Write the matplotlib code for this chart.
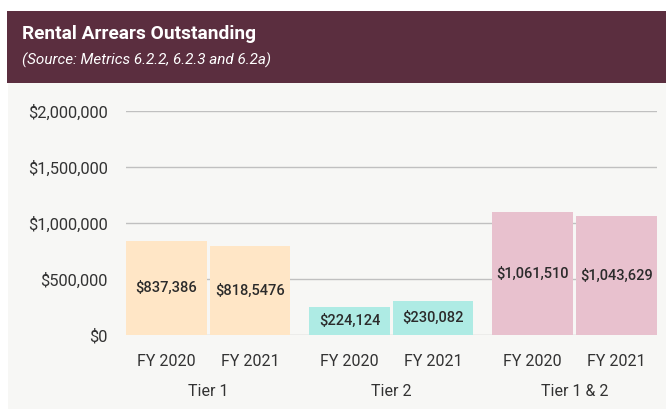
import matplotlib
matplotlib.use("Agg")
import matplotlib.pyplot as plt
from matplotlib.patches import Rectangle
import matplotlib.transforms as mtransforms

# ---- data ----
groups = ["Tier 1", "Tier 2", "Tier 1 & 2"]
years = ["FY 2020", "FY 2021"]
bar_heights = [[837386, 795000], [253000, 304000], [1098000, 1063000]]
bar_labels = [["$837,386", "$818,5476"], ["$224,124", "$230,082"], ["$1,061,510", "$1,043,629"]]
yticks = [0, 500000, 1000000, 1500000, 2000000]
ytick_labels = ["$0", "$500,000", "$1,000,000", "$1,500,000", "$2,000,000"]
group_colors = ["#ffe6c6", "#aeebe4", "#e8c1ce"]

W, H = 666, 409
fig = plt.figure(figsize=(W / 100, H / 100), dpi=100)
fig.patch.set_facecolor("white")

# panel background and header band
fig.patches.append(Rectangle((8 / W, 0), 1 - 8 / W, (H - 83) / H, transform=fig.transFigure,
                             facecolor="#f7f7f5", edgecolor="none", zorder=-10))
fig.patches.append(Rectangle((7 / W, (H - 83) / H), 1 - 7 / W, 72 / H, transform=fig.transFigure,
                             facecolor="#5b2e3f", edgecolor="none", zorder=-10))
fig.text(22 / W, (H - 34) / H, "Rental Arrears Outstanding", color="white", fontsize=13.8,
         fontweight="bold", family="Roboto", va="center", ha="left")
fig.text(22 / W, (H - 60) / H, "(Source: Metrics 6.2.2, 6.2.3 and 6.2a)", color="white",
         fontsize=11, style="italic", family="Roboto", va="center", ha="left")

left, right = 126 / W, 656.7 / W
bottom, top = (H - 335) / H, (H - 111) / H
ax = fig.add_axes([left, bottom, right - left, top - bottom])
ax.set_facecolor("none")
ax.set_zorder(1)

group_pitch = 184 / 84
width = 81 / 84
xs_all = []
for g, grp in enumerate(groups):
    for j in range(len(years)):
        x = g * group_pitch + j
        xs_all.append(x)
        ax.bar(x, bar_heights[g][j], width=width, color=group_colors[g], zorder=2)
        ax.text(x, bar_heights[g][j] / 2, bar_labels[g][j], ha="center", va="center",
                fontsize=10.5, color="#2b2b2b", family="Roboto", fontweight="medium", zorder=3)

ax.set_xlim(-width / 2, 2 * group_pitch + 1 + width / 2)
ax.set_ylim(0, 2000000)
ax.set_yticks(yticks)
ax.set_yticklabels(ytick_labels, family="Roboto", fontsize=11.8, color="#333333")
ax.grid(axis="y", color="#c0c0c0", lw=1, zorder=0)
ax.set_axisbelow(True)
for s in ax.spines.values():
    s.set_visible(False)
ax.tick_params(axis="y", length=0, pad=13)
ax.set_xticks(xs_all)
ax.set_xticklabels([y for _ in groups for y in years], family="Roboto", fontsize=11.5, color="#333333")
ax.tick_params(axis="x", length=0, pad=14)

trans = mtransforms.blended_transform_factory(ax.transData, fig.transFigure)
for g, grp in enumerate(groups):
    ax.text(g * group_pitch + 0.5, (H - 391) / H, grp, transform=trans, ha="center", va="center",
            family="Roboto", fontsize=11.5, color="#333333")

fig.savefig("out.png", dpi=100, facecolor=fig.get_facecolor())
